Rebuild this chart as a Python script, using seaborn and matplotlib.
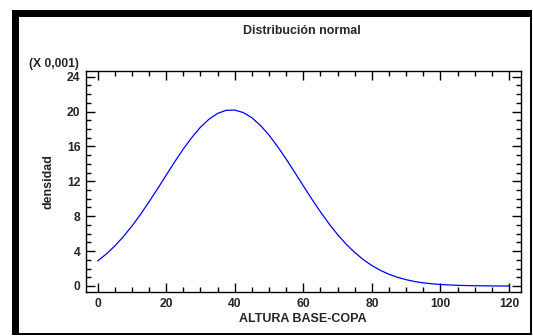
import numpy as np
import pandas as pd
import matplotlib
matplotlib.use("Agg")
import matplotlib.pyplot as plt
from matplotlib.patches import Rectangle
from matplotlib.ticker import MultipleLocator
import seaborn as sns

# Data (density in units of 0.001)
altura = [0, 2.5, 5, 7.5, 10, 12.5, 15, 17.5, 20, 22.5, 25, 27.5, 30, 32.5, 35, 37.5,
          40, 42.5, 45, 47.5, 50, 52.5, 55, 57.5, 60, 62.5, 65, 67.5, 70, 72.5, 75,
          77.5, 80, 82.5, 85, 87.5, 90, 92.5, 95, 97.5, 100, 102.5, 105, 107.5, 110,
          112.5, 115, 117.5, 120]
densidad = [2.87, 3.66, 4.59, 5.66, 6.87, 8.21, 9.66, 11.16, 12.71, 14.25, 15.72,
            17.04, 18.21, 19.13, 19.79, 20.14, 20.17, 19.88, 19.29, 18.41, 17.30,
            15.98, 14.55, 13.02, 11.48, 9.95, 8.50, 7.13, 5.89, 4.79, 3.84, 3.02,
            2.34, 1.79, 1.34, 0.99, 0.72, 0.51, 0.36, 0.25, 0.17, 0.12, 0.08, 0.05,
            0.03, 0.02, 0.01, 0.00, 0.00]
xticks = [0, 20, 40, 60, 80, 100, 120]
yticks = [0, 4, 8, 12, 16, 20, 24]

df = pd.DataFrame({"x": altura, "y": densidad})

sns.set_style("white")
plt.rcParams["font.family"] = ["Liberation Sans", "DejaVu Sans"]
plt.rcParams["font.weight"] = "bold"

W, H = 533, 336
fig = plt.figure(figsize=(W / 100, H / 100), dpi=100)
fig.patch.set_facecolor("white")

ax = fig.add_axes([86 / W, 1 - 292 / H, (521 - 86) / W, (292 - 71) / H])
sns.lineplot(data=df, x="x", y="y", ax=ax, color="#0000ff", linewidth=0.9)

ax.set_xlim(-3.4, 123.5)
ax.set_ylim(-0.69, 24.65)
ax.set_xticks(xticks)
ax.set_yticks(yticks)
ax.set_xticklabels([str(v) for v in xticks], fontsize=8.7, fontweight="bold")
ax.set_yticklabels([str(v) for v in yticks], fontsize=8.7, fontweight="bold")
ax.xaxis.set_minor_locator(MultipleLocator(5))
ax.yaxis.set_minor_locator(MultipleLocator(1))
ax.tick_params(which="both", direction="in", top=True, right=True,
               bottom=True, left=True, color="black", width=1.0)
ax.tick_params(which="major", length=6.5)
ax.tick_params(axis="y", which="major", pad=4)
ax.tick_params(axis="x", which="major", pad=4)
ax.tick_params(which="minor", length=3.5)
for s in ax.spines.values():
    s.set_visible(True)
    s.set_color("black")
    s.set_linewidth(1.0)

ax.set_xlabel("ALTURA BASE-COPA", fontsize=9, fontweight="bold")
ax.set_ylabel("densidad", fontsize=9, fontweight="bold")
ax.xaxis.set_label_coords((303 - 86) / (521 - 86), (292 - 319) / (292 - 71))
ax.xaxis.label.set_va("center")
ax.yaxis.set_label_coords((48 - 86) / (521 - 86), 0.5)
ax.yaxis.label.set_va("center")

fig.text(302 / W, 1 - 31.5 / H, "Distribución normal", ha="center", va="center",
         fontsize=8.9, fontweight="bold")
fig.text(54 / W, 1 - 64 / H, "(X 0,001)", ha="center", va="center",
         fontsize=8.7, fontweight="bold")

# Frame around the figure
def px_rect(x0, y0, x1, y1):
    fig.patches.append(Rectangle((x0 / W, 1 - y1 / H), (x1 - x0) / W, (y1 - y0) / H,
                                 transform=fig.transFigure, facecolor="black",
                                 edgecolor="none", zorder=10))

px_rect(12, 10, 532, 17.3)   # top
px_rect(12, 10, 19.3, 335)   # left
px_rect(529.8, 10, 532, 335) # right
px_rect(12, 332.8, 532, 335) # bottom

fig.savefig("out.png", dpi=100, facecolor="white")
